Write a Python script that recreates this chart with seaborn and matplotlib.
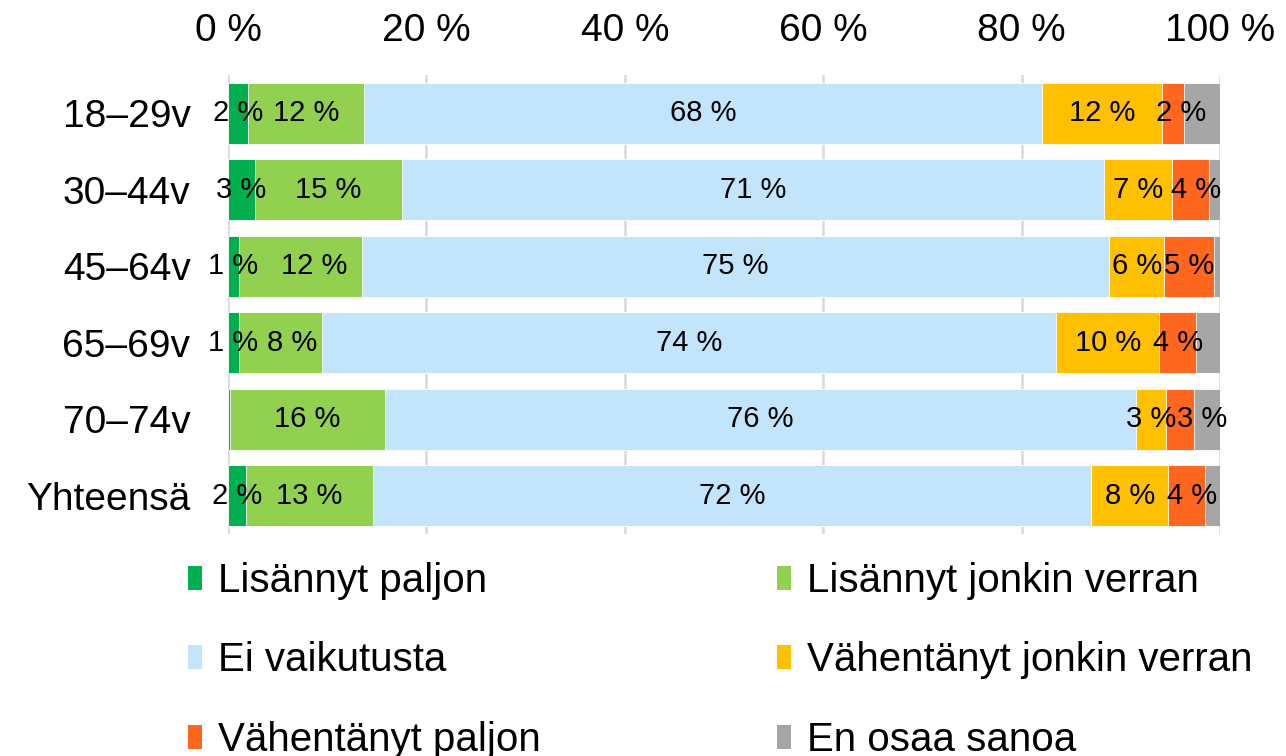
import numpy as np
import pandas as pd
import seaborn as sns
import matplotlib.pyplot as plt
from matplotlib.patches import Patch

# --- data ---
groups = ["18–29v", "30–44v", "45–64v", "65–69v", "70–74v", "Yhteensä"]
series_names = ["Lisännyt paljon", "Lisännyt jonkin verran", "Ei vaikutusta",
                "Vähentänyt jonkin verran", "Vähentänyt paljon", "En osaa sanoa"]
lisannyt_paljon = [2.0, 2.7, 1.1, 1.1, 0.2, 1.8]
lisannyt_jonkin = [11.7, 14.8, 12.4, 8.4, 15.6, 12.8]
ei_vaikutusta = [68.4, 70.8, 75.3, 74.0, 75.7, 72.4]
vahentanyt_jonkin = [12.1, 6.9, 5.6, 10.4, 3.1, 7.8]
vahentanyt_paljon = [2.2, 3.7, 5.0, 3.7, 2.8, 3.7]
en_osaa = [3.6, 1.1, 0.6, 2.4, 2.6, 1.5]
colors = ["#00B050", "#92D050", "#C2E5FB", "#FFC000", "#FF671F", "#A6A6A6"]
show_labels = [True, True, True, True, True, False]
# small nudges (in % units) for crowded labels
label_nudge = {("70–74v", "Vähentänyt paljon"): 2.2,
               ("18–29v", "Vähentänyt paljon"): 0.8,
               ("30–44v", "Vähentänyt paljon"): 0.5,
               ("Yhteensä", "Vähentänyt paljon"): 0.5,
               ("45–64v", "Lisännyt jonkin verran"): 1.4,
               ("65–69v", "Lisännyt jonkin verran"): 1.2}

sns.set_theme(style="white")
plt.rcParams['font.family'] = ['Liberation Sans', 'DejaVu Sans']
plt.rcParams['text.color'] = 'black'
plt.rcParams['xtick.color'] = 'black'
plt.rcParams['ytick.color'] = 'black'

df = pd.DataFrame(
    [lisannyt_paljon, lisannyt_jonkin, ei_vaikutusta,
     vahentanyt_jonkin, vahentanyt_paljon, en_osaa],
    index=series_names, columns=groups).T
cum = df.cumsum(axis=1)

fig = plt.figure(figsize=(12.86, 7.56), dpi=100)
ax = fig.add_axes([228 / 1286, 1 - 534 / 756, 992 / 1286, 459 / 756])

# stacked bars: draw cumulative totals from the last series backwards
for name, col in reversed(list(zip(series_names, colors))):
    sns.barplot(x=cum[name].values, y=groups, orient="h", color=col,
                width=0.8, ax=ax, edgecolor="white", linewidth=0.6,
                saturation=1, zorder=3)

# data labels
for j, name in enumerate(series_names):
    if not show_labels[j]:
        continue
    for i, g in enumerate(groups):
        v = df.loc[g, name]
        if v < 0.5:
            continue
        xc = cum.loc[g, name] - v / 2 + label_nudge.get((g, name), 0)
        ax.text(xc, i, f"{v:.0f} %", ha="center", va="center",
                fontsize=21, color="black", zorder=5)

ax.set_xlim(0, 100)
ax.set_ylim(len(groups) - 0.5, -0.5)
ax.xaxis.tick_top()
ax.set_xticks(np.arange(0, 101, 20))
ax.set_xticklabels([f"{t} %" for t in range(0, 101, 20)])
ax.tick_params(axis="x", length=0, pad=19, labelsize=28)
ax.tick_params(axis="y", length=0, pad=27, labelsize=28)
ax.set_xlabel("")
ax.set_ylabel("")
ax.grid(axis="x", color="#D9D9D9", linewidth=1.8, zorder=0)
ax.set_axisbelow(True)
for s in ax.spines.values():
    s.set_visible(False)

# legend, row-wise order in two columns
handles = [Patch(facecolor=c, edgecolor="none") for c in colors]
order = [0, 2, 4, 1, 3, 5]
fig.legend([handles[k] for k in order], [series_names[k] for k in order],
           ncol=2, loc="upper left", bbox_to_anchor=(188 / 1286, 1 - 562 / 756),
           frameon=False, fontsize=29, handlelength=0.35, handleheight=0.55,
           handletextpad=0.4, columnspacing=5.85, labelspacing=1.03,
           borderpad=0, borderaxespad=0)

fig.savefig("out.png", dpi=100)
